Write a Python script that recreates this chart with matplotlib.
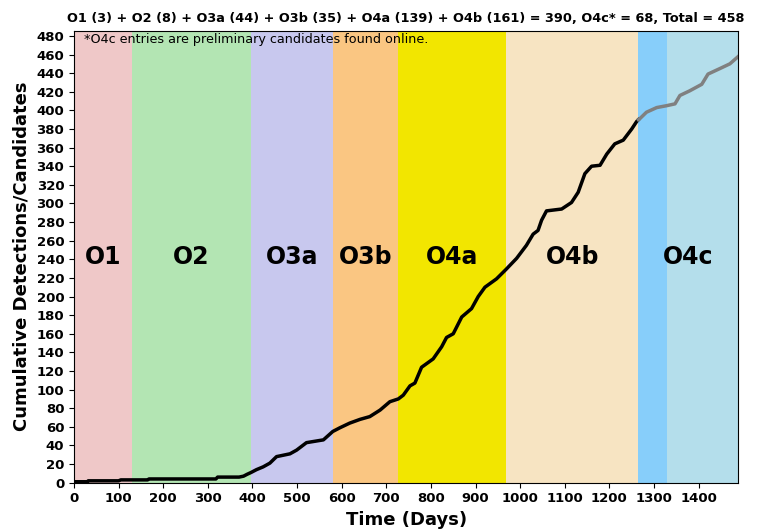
import matplotlib
matplotlib.use('Agg')
from matplotlib import pyplot as plt

# observing runs, laid end to end on the time axis (days)
run_names = ['O1', 'O2', 'O3a', 'O3b', 'O4a', 'O4b', 'O4c', 'O4c']
run_starts = [0, 129, 397, 580, 727, 968, 1265, 1329]
run_ends = [129, 397, 580, 727, 968, 1265, 1329, 1489]
run_colors = ['#efc8c8', '#b3e5b3', '#c8c8ee', '#fac682', '#f2e600', '#f7e4c2', '#87cefa', '#b4deeb']
run_counts = [3, 8, 44, 35, 139, 161]
o4c_count = 68

# cumulative curve (confirmed events, O1 to O4b)
conf_days = [0, 30, 32, 100, 105, 165, 168, 318, 322, 370, 380, 388, 397,
             409, 424, 439, 454, 484, 499, 521, 559, 580,
             596, 618, 641, 663, 686, 708, 727,
             738, 753, 764, 779, 805, 824, 835, 850, 869, 891, 906, 921, 947, 968,
             992, 1014, 1029, 1040, 1048, 1059, 1093, 1115, 1130, 1145, 1160, 1179,
             1194, 1212, 1231, 1250, 1261, 1265]
conf_counts = [1, 1, 2, 2, 3, 3, 4, 4, 6, 6, 7, 9, 11,
               14, 17, 21, 28, 31, 35, 43, 46, 55,
               59, 64, 68, 71, 78, 87, 90,
               94, 104, 107, 124, 133, 146, 156, 160, 178, 187, 200, 210, 219, 229,
               241, 255, 267, 271, 282, 292, 294, 301, 312, 332, 340, 341,
               353, 364, 368, 380, 388, 390]

# preliminary O4c candidates
cand_days = [1265, 1268, 1283, 1306, 1328, 1347, 1358, 1380, 1407, 1421, 1448, 1470, 1489]
cand_counts = [390, 391, 398, 403, 405, 407, 416, 421, 428, 439, 445, 450, 458]

total = conf_counts[-1] + o4c_count

fig = plt.figure(figsize=(7.58, 5.31), dpi=100)
ax = fig.add_axes([0.0976, 0.091, 0.8765, 0.851])

for s, e, c in zip(run_starts, run_ends, run_colors):
    ax.axvspan(s, e, color=c, lw=0, zorder=0)

ymax = total * 1.06
label_done = set()
for name in run_names:
    if name in label_done:
        continue
    label_done.add(name)
    # label sits in the middle of all spans with that name
    s0 = min(a for n, a in zip(run_names, run_starts) if n == name)
    e0 = max(b for n, b in zip(run_names, run_ends) if n == name)
    ax.text((s0 + e0) / 2, ymax / 2, name, ha='center', va='center',
            fontsize=17, fontweight='bold', zorder=3)

ax.plot(conf_days, conf_counts, c='black', lw=2.5, zorder=2)
ax.plot(cand_days, cand_counts, c='gray', lw=2.5, zorder=2)

ax.set_xlim(0, run_ends[-1])
ax.set_ylim(0, ymax)
ax.set_xticks(range(0, 1401, 100))
ax.set_yticks(range(0, 481, 20))
for lab in ax.get_xticklabels() + ax.get_yticklabels():
    lab.set_fontweight('bold')
ax.tick_params(labelsize=9.5)

ax.set_xlabel('Time (Days)', fontsize=13, fontweight='bold')
ax.set_ylabel('Cumulative Detections/Candidates', fontsize=13, fontweight='bold')

parts = ' + '.join(f'{n} ({c})' for n, c in zip(run_names[:6], run_counts))
ax.set_title(f'{parts} = {sum(run_counts)}, O4c* = {o4c_count}, Total = {total}',
             fontsize=9.3, fontweight='bold')
ax.text(0.015, 0.995, '*O4c entries are preliminary candidates found online.',
        transform=ax.transAxes, ha='left', va='top', fontsize=9.2, zorder=3)

fig.savefig('out.png', dpi=100)
